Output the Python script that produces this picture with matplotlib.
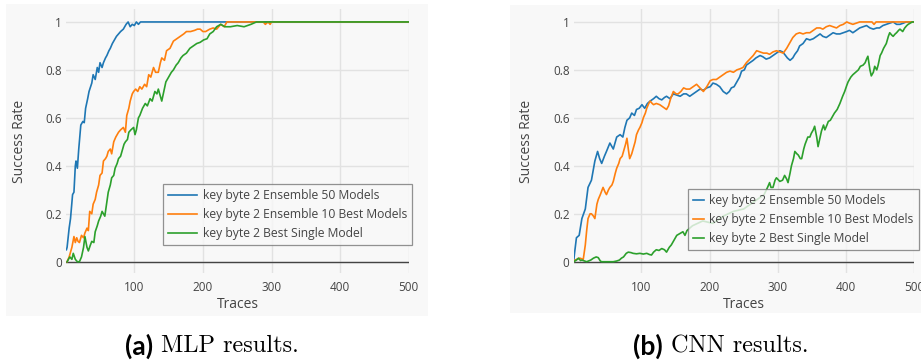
import matplotlib
matplotlib.use('Agg')
import matplotlib.pyplot as plt
from matplotlib.patches import Rectangle

# success rate vs. number of traces, key byte 2

# MLP, ensemble of 50 models
mlp_t_50 = [1, 2, 5, 7, 10, 12, 14, 15, 17, 19,
            22, 25, 27, 29, 32, 34, 38, 40, 43, 46,
            48, 50, 53, 55, 58, 60, 63, 65, 68, 70,
            74, 77, 80, 84, 88, 91, 94, 97, 100, 103,
            106, 109, 500]
mlp_v_50 = [0.05, 0.06, 0.14, 0.18, 0.28, 0.29, 0.40, 0.42, 0.39, 0.47,
            0.57, 0.585, 0.58, 0.64, 0.68, 0.71, 0.745, 0.78, 0.76, 0.81,
            0.79, 0.83, 0.81, 0.83, 0.85, 0.86, 0.88, 0.89, 0.91, 0.92,
            0.94, 0.95, 0.96, 0.97, 0.99, 1.0, 0.98, 0.99, 0.985, 1.0,
            0.99, 1.0, 1.0]

# MLP, ensemble of the 10 best models
mlp_t_10 = [2, 5, 9, 12, 14, 16, 18, 20, 23, 26,
            28, 31, 33, 35, 38, 40, 43, 45, 48, 50,
            53, 55, 58, 60, 62, 65, 67, 70, 73, 77,
            80, 84, 87, 89, 92, 94, 97, 99, 102, 105,
            108, 111, 115, 118, 121, 124, 128, 131, 135, 138,
            140, 144, 147, 152, 157, 162, 167, 172, 176, 182,
            188, 192, 196, 200, 204, 210, 215, 220, 226, 231,
            235, 288, 291, 295, 298, 300, 500]
mlp_v_10 = [0.0, 0.02, 0.06, 0.105, 0.08, 0.10, 0.085, 0.08, 0.11, 0.10,
            0.12, 0.14, 0.13, 0.21, 0.20, 0.24, 0.26, 0.29, 0.32, 0.36,
            0.37, 0.42, 0.43, 0.44, 0.46, 0.47, 0.45, 0.50, 0.52, 0.54,
            0.55, 0.56, 0.54, 0.61, 0.64, 0.67, 0.70, 0.71, 0.72, 0.71,
            0.73, 0.72, 0.74, 0.73, 0.78, 0.77, 0.81, 0.79, 0.79, 0.83,
            0.85, 0.84, 0.88, 0.89, 0.92, 0.93, 0.94, 0.95, 0.96, 0.96,
            0.965, 0.97, 0.97, 0.96, 0.96, 0.97, 0.975, 0.97, 0.99, 0.98,
            1.0, 1.0, 0.99, 1.0, 0.99, 1.0, 1.0]

# MLP, best single model
mlp_t_1 = [2, 6, 9, 11, 14, 17, 20, 23, 26, 28,
           31, 33, 36, 38, 41, 43, 46, 48, 51, 53,
           55, 57, 60, 62, 65, 67, 70, 72, 75, 77,
           80, 82, 85, 87, 90, 92, 95, 99, 101, 103,
           106, 108, 112, 116, 119, 123, 126, 130, 133, 135,
           138, 140, 143, 146, 150, 154, 157, 161, 164, 168,
           171, 176, 181, 186, 191, 196, 201, 206, 210, 215,
           220, 226, 232, 240, 250, 260, 270, 278, 500]
mlp_v_1 = [0.0, 0.02, 0.01, 0.035, 0.01, 0.0, 0.0, 0.02, 0.06, 0.105,
           0.06, 0.045, 0.07, 0.085, 0.08, 0.125, 0.15, 0.17, 0.19, 0.21,
           0.20, 0.19, 0.25, 0.29, 0.32, 0.35, 0.36, 0.39, 0.41, 0.43,
           0.44, 0.46, 0.49, 0.50, 0.51, 0.54, 0.55, 0.56, 0.53, 0.55,
           0.60, 0.61, 0.64, 0.66, 0.65, 0.68, 0.67, 0.71, 0.70, 0.72,
           0.69, 0.67, 0.71, 0.75, 0.77, 0.79, 0.80, 0.82, 0.83, 0.85,
           0.86, 0.87, 0.89, 0.90, 0.91, 0.915, 0.925, 0.93, 0.95, 0.96,
           0.98, 0.99, 0.98, 0.98, 0.985, 0.98, 0.99, 1.0, 1.0]

# CNN, ensemble of 50 models
cnn_t_50 = [1, 2, 5, 9, 13, 18, 22, 27, 32, 36,
            39, 42, 46, 49, 54, 59, 64, 69, 73, 76,
            79, 83, 86, 90, 93, 97, 101, 105, 109, 113,
            118, 122, 126, 130, 134, 137, 142, 147, 152, 157,
            162, 166, 171, 176, 181, 186, 191, 196, 201, 205,
            210, 215, 220, 225, 229, 232, 236, 240, 244, 247,
            251, 254, 259, 264, 268, 274, 278, 283, 288, 293,
            298, 303, 307, 310, 314, 318, 322, 325, 329, 332,
            337, 342, 347, 352, 357, 362, 366, 371, 376, 381,
            386, 391, 396, 401, 405, 410, 415, 420, 425, 430,
            435, 440, 445, 449, 454, 459, 464, 469, 474, 479,
            484, 488, 500]
cnn_v_50 = [0.0, 0.03, 0.10, 0.11, 0.18, 0.22, 0.31, 0.34, 0.42, 0.46,
            0.43, 0.41, 0.44, 0.46, 0.495, 0.47, 0.52, 0.53, 0.52, 0.56,
            0.59, 0.60, 0.62, 0.61, 0.635, 0.64, 0.655, 0.64, 0.66, 0.67,
            0.68, 0.69, 0.68, 0.675, 0.685, 0.69, 0.68, 0.70, 0.695, 0.69,
            0.70, 0.70, 0.69, 0.70, 0.71, 0.72, 0.715, 0.725, 0.73, 0.745,
            0.74, 0.73, 0.71, 0.70, 0.71, 0.725, 0.73, 0.75, 0.77, 0.795,
            0.80, 0.82, 0.83, 0.84, 0.85, 0.86, 0.855, 0.845, 0.85, 0.86,
            0.87, 0.88, 0.875, 0.865, 0.85, 0.84, 0.85, 0.865, 0.88, 0.90,
            0.91, 0.93, 0.925, 0.93, 0.94, 0.95, 0.94, 0.935, 0.945, 0.955,
            0.95, 0.95, 0.955, 0.96, 0.965, 0.955, 0.965, 0.975, 0.98, 0.985,
            0.975, 0.97, 0.975, 0.975, 0.985, 0.99, 0.995, 1.0, 0.99, 0.99,
            0.995, 1.0, 1.0]

# CNN, ensemble of the 10 best models
cnn_t_10 = [1, 3, 10, 15, 18, 20, 22, 25, 27, 30,
            32, 35, 37, 40, 44, 47, 49, 52, 54, 57,
            59, 62, 64, 67, 69, 72, 74, 77, 79, 81,
            83, 86, 88, 91, 93, 96, 98, 101, 103, 106,
            108, 111, 113, 116, 118, 122, 127, 132, 137, 140,
            143, 147, 151, 154, 158, 162, 166, 171, 176, 181,
            186, 191, 196, 201, 205, 210, 215, 220, 225, 230,
            235, 240, 245, 249, 254, 259, 264, 269, 274, 279,
            284, 288, 293, 298, 303, 308, 313, 318, 322, 327,
            332, 337, 342, 347, 352, 357, 362, 366, 371, 376,
            381, 386, 391, 396, 401, 405, 410, 415, 420, 438,
            441, 444, 500]
cnn_v_10 = [0.0, 0.007, 0.015, 0.01, 0.07, 0.13, 0.18, 0.20, 0.20, 0.19,
            0.18, 0.24, 0.26, 0.28, 0.31, 0.29, 0.28, 0.30, 0.31, 0.32,
            0.335, 0.37, 0.39, 0.41, 0.43, 0.44, 0.46, 0.49, 0.515, 0.47,
            0.43, 0.45, 0.47, 0.50, 0.53, 0.55, 0.56, 0.58, 0.60, 0.62,
            0.64, 0.66, 0.67, 0.66, 0.655, 0.66, 0.655, 0.645, 0.635, 0.65,
            0.68, 0.71, 0.70, 0.70, 0.71, 0.725, 0.72, 0.72, 0.73, 0.74,
            0.725, 0.71, 0.73, 0.755, 0.76, 0.76, 0.77, 0.78, 0.79, 0.795,
            0.79, 0.80, 0.805, 0.81, 0.83, 0.845, 0.86, 0.88, 0.875, 0.87,
            0.87, 0.865, 0.875, 0.88, 0.875, 0.87, 0.89, 0.915, 0.935, 0.95,
            0.955, 0.95, 0.955, 0.955, 0.965, 0.975, 0.975, 0.97, 0.98, 0.985,
            0.98, 0.975, 0.985, 0.99, 1.0, 0.995, 0.99, 0.995, 1.0, 1.0,
            0.99, 1.0, 1.0]

# CNN, best single model
cnn_t_1 = [1, 5, 8, 11, 13, 20, 26, 30, 34, 37,
           40, 42, 59, 64, 68, 71, 74, 78, 81, 85,
           88, 93, 98, 103, 108, 112, 115, 118, 122, 126,
           130, 134, 137, 141, 144, 148, 152, 155, 158, 161,
           164, 167, 175, 190, 205, 220, 235, 250, 265, 280,
           285, 288, 290, 293, 296, 298, 303, 307, 310, 313,
           315, 318, 320, 323, 325, 328, 330, 333, 335, 338,
           340, 344, 347, 349, 352, 354, 357, 359, 362, 364,
           367, 369, 372, 374, 377, 379, 383, 387, 391, 395,
           398, 401, 403, 407, 410, 414, 418, 421, 425, 428,
           430, 432, 435, 437, 440, 442, 445, 447, 450, 452,
           455, 459, 462, 464, 467, 469, 472, 474, 477, 479,
           481, 483, 486, 489, 491, 494, 497, 500]
cnn_v_1 = [0.0, 0.007, 0.015, 0.005, 0.007, 0.0, 0.007, 0.015, 0.02, 0.017,
           0.003, 0.0, 0.0, 0.003, 0.007, 0.015, 0.02, 0.035, 0.04, 0.038,
           0.035, 0.033, 0.035, 0.032, 0.035, 0.03, 0.028, 0.04, 0.05, 0.047,
           0.055, 0.05, 0.04, 0.06, 0.07, 0.09, 0.11, 0.115, 0.12, 0.125,
           0.11, 0.13, 0.15, 0.17, 0.16, 0.19, 0.21, 0.22, 0.25, 0.28,
           0.31, 0.33, 0.31, 0.31, 0.34, 0.35, 0.335, 0.34, 0.36, 0.345,
           0.33, 0.37, 0.40, 0.43, 0.46, 0.45, 0.445, 0.43, 0.43, 0.47,
           0.49, 0.52, 0.52, 0.535, 0.55, 0.565, 0.52, 0.48, 0.52, 0.545,
           0.57, 0.55, 0.57, 0.585, 0.59, 0.60, 0.62, 0.635, 0.66, 0.69,
           0.71, 0.735, 0.75, 0.77, 0.78, 0.79, 0.80, 0.815, 0.82, 0.83,
           0.845, 0.857, 0.80, 0.775, 0.79, 0.815, 0.80, 0.82, 0.86, 0.87,
           0.89, 0.91, 0.94, 0.955, 0.945, 0.94, 0.95, 0.955, 0.965, 0.97,
           0.965, 0.96, 0.975, 0.985, 0.99, 0.995, 1.0, 1.0]

labels = ['key byte 2 Ensemble 50 Models',
          'key byte 2 Ensemble 10 Best Models',
          'key byte 2 Best Single Model']
colors = ['#1f77b4', '#ff7f0e', '#2ca02c']
y_ticks = [0, 0.2, 0.4, 0.6, 0.8, 1.0]
y_ticklabels = ['0', '0.2', '0.4', '0.6', '0.8', '1']
x_ticks = [100, 200, 300, 400, 500]

panel_bg = '#f8f8f8'
grid_col = '#e2e2e2'
text_col = '#444444'

plt.rcParams['font.family'] = ['Open Sans', 'DejaVu Sans']

W, H = 921, 361
fig = plt.figure(figsize=(W / 100, H / 100), dpi=100)


def fx(px):
    return px / W


def fy(py):
    return 1 - py / H


# grey card behind each plot
fig.patches.append(Rectangle((fx(6), fy(316)), fx(422), 312 / H, transform=fig.transFigure,
                             facecolor=panel_bg, edgecolor='none', zorder=-10))
fig.patches.append(Rectangle((fx(510), fy(313)), fx(411), 308 / H, transform=fig.transFigure,
                             facecolor=panel_bg, edgecolor='none', zorder=-10))


def draw_panel(rect, series, ylabel_x, legend_xy, handle_len):
    ax = fig.add_axes(rect)
    ax.set_facecolor(panel_bg)
    for t, v, c, lab in series:
        ax.plot(t, v, color=c, lw=1.2, label=lab, zorder=3)
    ax.set_xlim(1, 500)
    ax.set_ylim(-0.047, 1.054)
    ax.set_xticks(x_ticks)
    ax.set_yticks(y_ticks)
    ax.set_yticklabels(y_ticklabels)
    ax.tick_params(length=0, labelsize=8.5, labelcolor=text_col)
    ax.tick_params(axis='x', pad=6)
    ax.tick_params(axis='y', pad=3)
    for s in ax.spines.values():
        s.set_visible(False)
    ax.grid(True, color=grid_col, lw=1.0, zorder=0)
    ax.axhline(0, color='#444444', lw=1.0, zorder=2)
    ax.set_xlabel('Traces', fontsize=10, color=text_col, labelpad=2)
    ax.set_ylabel('Success Rate', fontsize=10, color=text_col)
    ax.yaxis.set_label_coords(ylabel_x, 0.5 * (fy(9) + fy(273)), transform=fig.transFigure)
    leg = ax.legend(loc='upper left', bbox_to_anchor=legend_xy, bbox_transform=fig.transFigure,
                    borderaxespad=0, fontsize=8.75, frameon=True, fancybox=False,
                    handlelength=handle_len, handletextpad=0.46, labelspacing=0.5,
                    borderpad=0.4)
    leg.get_frame().set_facecolor(panel_bg)
    leg.get_frame().set_edgecolor('#777777')
    leg.get_frame().set_linewidth(0.9)
    for txt in leg.get_texts():
        txt.set_color(text_col)
    return ax


mlp = [(mlp_t_50, mlp_v_50, colors[0], labels[0]),
       (mlp_t_10, mlp_v_10, colors[1], labels[1]),
       (mlp_t_1, mlp_v_1, colors[2], labels[2])]
cnn = [(cnn_t_50, cnn_v_50, colors[0], labels[0]),
       (cnn_t_10, cnn_v_10, colors[1], labels[1]),
       (cnn_t_1, cnn_v_1, colors[2], labels[2])]

draw_panel([fx(66.4), fy(273), fx(342.3), 264 / H], mlp, fx(27), (fx(163), fy(184)), 2.42)
draw_panel([fx(573.7), fy(273), fx(340.6), 264 / H], cnn, fx(534), (fx(688), fy(189)), 0.9)

# sub-figure captions
for x_split, tag, cap in [(157, '(a)', 'MLP results.'), (667, '(b)', 'CNN results.')]:
    fig.text(fx(x_split - 4), fy(346), tag, ha='right', va='center', fontsize=19,
             fontweight='bold', family=['Lato', 'DejaVu Sans'], color='black')
    fig.text(fx(x_split + 4), fy(346), cap, ha='left', va='center', fontsize=17.5,
             family=['cmr10', 'DejaVu Serif'], color='black')

fig.savefig('out.png', dpi=100, facecolor='white')
